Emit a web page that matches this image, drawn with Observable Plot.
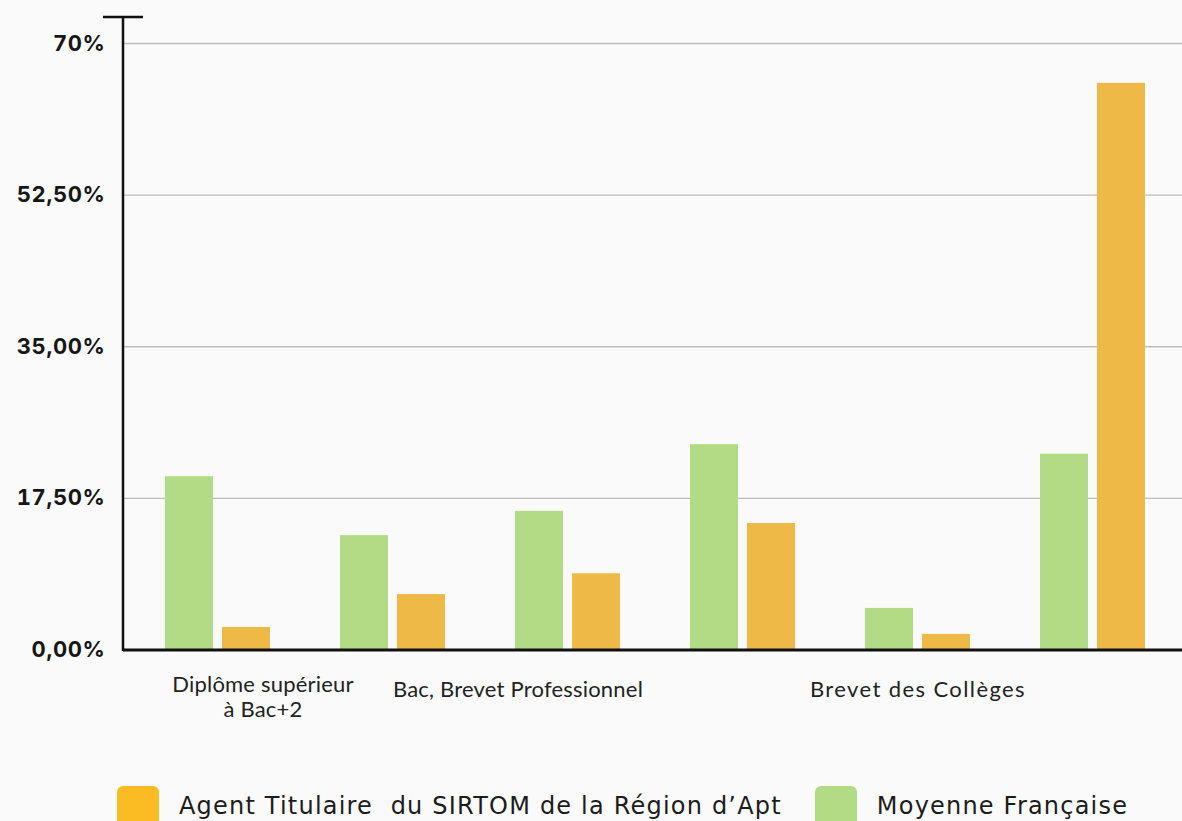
<!DOCTYPE html>
<html>
<head>
<meta charset="utf-8">
<script src="https://cdn.jsdelivr.net/npm/d3@7"></script>
<script src="https://cdn.jsdelivr.net/npm/@observablehq/plot@0.6"></script>
<style>
  html, body { margin: 0; padding: 0; background: #fafafa; }
  #chart svg { display: block; background: #fafafa; }
  .legend { display: flex; align-items: flex-start; padding-left: 117px; padding-top: 6px; font-family: "DejaVu Sans", sans-serif; font-size: 24px; color: #1c1c1c; letter-spacing: 1.2px; }
  .legend .item { display: flex; align-items: flex-start; margin-right: 33px; }
  .legend .sw { width: 42px; height: 42px; border-radius: 6px; margin-right: 20px; }
  .legend .lbl { padding-top: 6px; white-space: pre; }
</style>
</head>
<body>
<div id="chart"></div>
<div class="legend" id="legend"></div>
<script>
const categories = ["Diplôme supérieur à Bac+2", "Bac+2", "Bac, Brevet Professionnel", "CAP, BEP", "Brevet des Collèges", "Sans diplôme"];
const moyenne = [20.0, 13.2, 16.0, 23.7, 4.8, 22.6];
const agent = [2.6, 6.4, 8.8, 14.6, 1.8, 65.4];
const yTicks = [0, 17.5, 35, 52.5, 70];
const yTickLabels = ["0,00%", "17,50%", "35,00%", "52,50%", "70%"];
const xLabelled = ["Diplôme supérieur à Bac+2", "Bac, Brevet Professionnel", "Brevet des Collèges"];
const xLabelText = ["Diplôme supérieur\nà Bac+2", "Bac, Brevet Professionnel", "Brevet des Collèges"];
const seriesNames = ["Agent Titulaire  du SIRTOM de la Région d’Apt", "Moyenne Française"];
const seriesColors = ["#fbbc23", "#b1dc85"];
const barColors = { agent: "#efb947", moyenne: "#b1dc85" };
const yMax = 73;

const moyData = categories.map((c, i) => ({category: c, value: moyenne[i]}));
const agentData = categories.map((c, i) => ({category: c, value: agent[i]}));

const xDx = [45, -50, 0];
const xPad = [24, 29, 29];
const xSpacing = ["0.2px", "0.2px", "1.4px"];

const axisLine = (index, scales, values, dimensions) => {
  const g = d3.create("svg:g");
  const x0 = dimensions.marginLeft;
  g.append("line").attr("x1", x0).attr("x2", x0)
    .attr("y1", scales.y(0) + 1.5).attr("y2", scales.y(yMax))
    .attr("stroke", "#111").attr("stroke-width", 2.5);
  g.append("line").attr("x1", x0 - 20).attr("x2", x0 + 20)
    .attr("y1", scales.y(yMax)).attr("y2", scales.y(yMax))
    .attr("stroke", "#111").attr("stroke-width", 2.5);
  return g.node();
};

const plot = Plot.plot({
  width: 1182,
  height: 780,
  marginLeft: 123,
  marginRight: 0,
  marginTop: 17,
  marginBottom: 130.5,
  style: { background: "#fafafa", overflow: "visible" },
  x: { domain: categories, padding: 0, insetLeft: 7, insetRight: 2, axis: null },
  y: { domain: [0, yMax], axis: null },
  marks: [
    Plot.ruleY(yTicks.filter(d => d > 0), { stroke: "#bdbdbd", strokeWidth: 1.3 }),
    Plot.barY(moyData, { x: "category", y: "value", fill: barColors.moyenne, insetLeft: 35, insetRight: 92 }),
    Plot.barY(agentData, { x: "category", y: "value", fill: barColors.agent, insetLeft: 92, insetRight: 35 }),
    Plot.ruleY([0], { stroke: "#111", strokeWidth: 3 }),
    axisLine,
    Plot.axisY({
      ticks: yTicks,
      tickFormat: d => yTickLabels[yTicks.indexOf(d)],
      tickSize: 0,
      tickPadding: 18,
      fontSize: 22,
      fontWeight: 700,
      fontFamily: "Inter, sans-serif",
      fill: "#161616",
      label: null
    }),
    ...xLabelled.map((c, i) => Plot.axisX({
      ticks: [c],
      tickFormat: () => xLabelText[i],
      tickSize: 0,
      tickPadding: xPad[i],
      dx: xDx[i],
      fontSize: 22,
      fontFamily: "Lato, sans-serif",
      fill: "#222",
      lineHeight: 1.15,
      label: null
    }))
  ]
});
plot.querySelectorAll("text").forEach(t => {
  const s = t.textContent;
  if (yTickLabels.includes(s)) { t.style.letterSpacing = "0.6px"; return; }
  xLabelText.forEach((lab, i) => {
    if (s.replace(/\s+/g, "") === lab.replace(/\s+/g, "")) t.style.letterSpacing = xSpacing[i];
  });
});
document.getElementById("chart").appendChild(plot);

const legend = document.getElementById("legend");
seriesNames.forEach((name, i) => {
  const item = document.createElement("div");
  item.className = "item";
  const sw = document.createElement("div");
  sw.className = "sw";
  sw.style.background = seriesColors[i];
  const lbl = document.createElement("div");
  lbl.className = "lbl";
  lbl.textContent = name;
  item.appendChild(sw);
  item.appendChild(lbl);
  legend.appendChild(item);
});
</script>
</body>
</html>
